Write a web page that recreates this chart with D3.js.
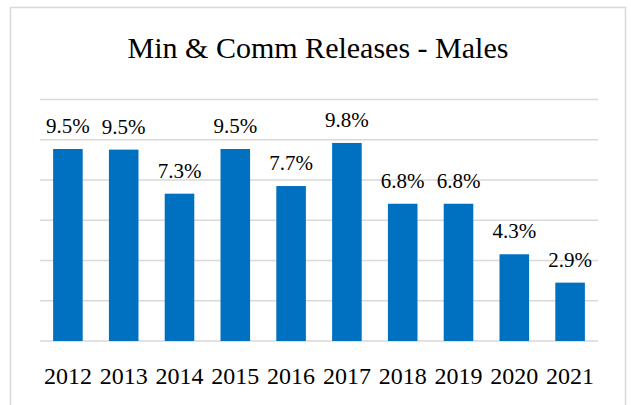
<!DOCTYPE html>
<html lang="en">
<head>
    <meta charset="UTF-8">
    <title>Min & Comm Releases - Males</title>
    <script src="https://cdn.jsdelivr.net/npm/d3@7"></script>
    <style>
        body {
            margin: 0;
            background: #fff;
        }

        text {
            font-family: "Palatino Linotype", "Book Antiqua", Palatino, "Liberation Serif", serif;
            fill: #000;
        }
    </style>
</head>
<body>
<script>
    var years = ["2012", "2013", "2014", "2015", "2016", "2017", "2018", "2019", "2020", "2021"];
    var rates = [9.54, 9.51, 7.32, 9.54, 7.70, 9.84, 6.82, 6.82, 4.31, 2.90];
    var gridTicks = [0, 2, 4, 6, 8, 10, 12];
    var title = "Min & Comm Releases - Males";

    var width = 631;
    var height = 405;
    var plot = {left: 40, right: 598, top: 99.5, bottom: 341};

    var svg = d3.select("body")
            .append("svg")
            .attr("width", width)
            .attr("height", height);

    // chart frame
    svg.append("rect")
            .attr("x", 10.5)
            .attr("y", 7.5)
            .attr("width", 615)
            .attr("height", 420)
            .attr("fill", "none")
            .attr("stroke", "#d9d9d9")
            .attr("stroke-width", 1.5);

    var x = d3.scaleBand()
            .domain(years)
            .range([plot.left, plot.right])
            .paddingInner(0.47)
            .paddingOuter(0.235);

    var y = d3.scaleLinear()
            .domain([0, 12])
            .range([plot.bottom, plot.top]);

    svg.append("text")
            .attr("x", 318)
            .attr("y", 58)
            .attr("text-anchor", "middle")
            .style("font-size", "30px")
            .text(title);

    // gridlines
    svg.append("g")
            .selectAll("line")
            .data(gridTicks)
            .enter()
            .append("line")
            .attr("x1", plot.left)
            .attr("x2", plot.right)
            .attr("y1", function (d) {
                return y(d);
            })
            .attr("y2", function (d) {
                return y(d);
            })
            .attr("stroke", "#d9d9d9")
            .attr("stroke-width", 1.5);

    svg.append("g")
            .selectAll("rect")
            .data(rates)
            .enter()
            .append("rect")
            .attr("x", function (d, i) {
                return x(years[i]);
            })
            .attr("y", function (d) {
                return y(d);
            })
            .attr("width", x.bandwidth())
            .attr("height", function (d) {
                return y(0) - y(d);
            })
            .attr("fill", "#0070c0");

    svg.append("g")
            .selectAll("text")
            .data(rates)
            .enter()
            .append("text")
            .attr("x", function (d, i) {
                return x(years[i]) + x.bandwidth() / 2;
            })
            .attr("y", function (d) {
                return y(d) - 16;
            })
            .attr("text-anchor", "middle")
            .style("font-size", "21px")
            .text(function (d) {
                return d.toFixed(1) + "%";
            });

    // x axis labels
    var xAxis = d3.axisBottom(x).tickSize(0).tickPadding(26);
    var gx = svg.append("g")
            .attr("transform", "translate(0," + plot.bottom + ")")
            .call(xAxis);
    gx.select(".domain").remove();
    gx.selectAll("text")
            .style("font-size", "24px")
            .style("font-family", "\"Palatino Linotype\", \"Book Antiqua\", Palatino, \"Liberation Serif\", serif");
</script>
</body>
</html>
